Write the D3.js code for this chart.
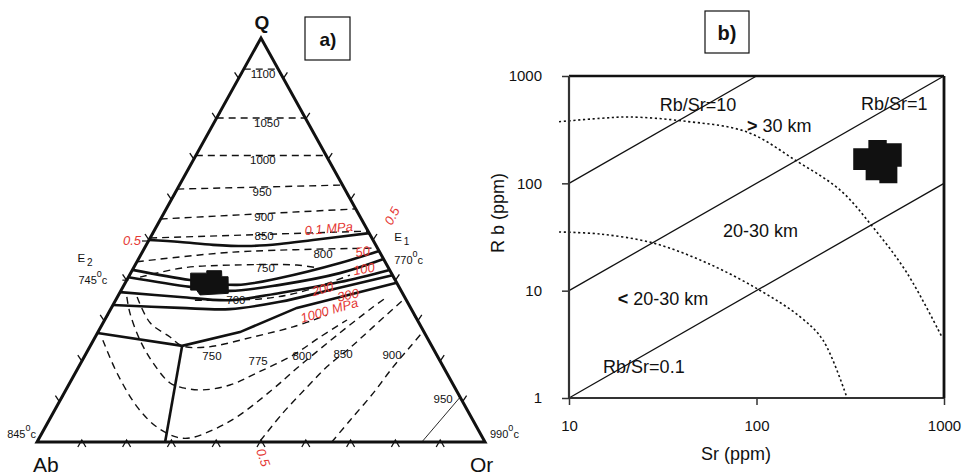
<!DOCTYPE html>
<html>
<head>
<meta charset="utf-8">
<script src="https://cdn.jsdelivr.net/npm/d3@7"></script>
<style>
  body { margin: 0; background: #fff; }
  svg { font-family: Arial, "Liberation Sans", Helvetica, sans-serif; }
</style>
</head>
<body>
<svg id="chart" width="974" height="475"></svg>
<script>
// ---------- panel a: Q-Ab-Or ternary, every point is [Or %, Q %] (Ab = rest) ----------
const ternTicks = [10, 20, 30, 40, 50, 60, 70, 80, 90];

const pressureNames = ["0.1 MPa", "50", "100", "200", "300", "1000 MPa"];
const pressureCurves = [
  [[0, 50.0], [7.2, 49.5], [14.9, 48.8], [22.6, 48.5], [29.7, 49.0], [36.6, 50.0], [48.3, 51.7]],
  [[0, 42.6], [14.1, 40.1], [25.2, 38.9], [33.9, 40.6], [45.5, 44.3], [52.7, 47.3]],
  [[0, 40.8], [15.0, 38.4], [24.4, 37.4], [34.8, 38.9], [46.7, 41.8], [54.7, 45.3]],
  [[0, 37.1], [14.0, 35.9], [25.5, 35.1], [35.8, 36.9], [47.8, 39.6], [57.4, 42.6]],
  [[0, 33.9], [15.3, 33.2], [26.6, 32.9], [36.9, 34.7], [46.6, 37.6], [58.7, 41.3]],
  [[0, 27.0], [20.5, 23.8], [31.7, 27.2], [41.4, 33.2], [60.6, 39.4]]
];
// field boundary from the 1000 MPa minimum down to the Ab-Or join
const fieldBoundary = [[20.5, 23.8], [28.6, 0]];

const isoTemps = [1100, 1050, 1000, 950, 900, 850, 800, 750, 700, 750, 775, 800, 850, 900];
const isotherms = [
  [[0, 92.3], [7.7, 92.3]],
  [[0, 80.2], [19.8, 80.2]],
  [[0, 70.9], [29.1, 70.9]],
  [[0, 62.6], [36.4, 63.6]],
  [[0, 55.2], [42.3, 57.7]],
  [[0, 50.5], [47.8, 52.2]],
  [[0, 44.6], [20.3, 47.0], [52.0, 48.0]],
  [[2.6, 40.8], [11.0, 43.1], [21.9, 43.8], [36.1, 43.8], [41.0, 43.1]],
  [[17.7, 35.1], [32.1, 35.4], [40.2, 37.1], [49.2, 41.3]],
  [[4.4, 35.9], [10.5, 29.5], [16.7, 26.0], [20.5, 23.8], [26.2, 23.5], [35.2, 26.0], [42.9, 28.5], [49.0, 31.4]],
  [[2.1, 35.9], [4.8, 31.9], [10.4, 25.2], [16.1, 19.6], [22.4, 14.6], [25.9, 13.4], [30.6, 12.9], [36.0, 14.1], [40.5, 17.1], [46.4, 21.5], [50.2, 26.0], [54.1, 30.2]],
  [[2.1, 25.2], [9.3, 17.1], [18.0, 8.7], [24.9, 3.7], [30.6, 1.2], [33.7, 1.0], [37.8, 3.0], [41.5, 6.2], [46.0, 12.9], [48.9, 18.3], [54.1, 27.0], [58.3, 33.4], [60.2, 35.9]],
  [[49.7, 0.3], [51.3, 7.2], [53.5, 13.6], [55.4, 18.6], [58.2, 23.3], [60.8, 28.5], [64.1, 35.1]],
  [[65.8, 0], [67.2, 5.4], [69.0, 12.1], [70.2, 18.6], [71.5, 23.5], [72.4, 27.0]]
];
const iso950 = [[85.9, 0], [88.9, 11.1]];

// label anchors (text centre / baseline) in [Or, Q]
const isoLabelText = ["1100", "1050", "1000", "950", "900", "850", "800", "750", "700", "750", "775", "800", "850", "900", "950"];
const isoLabelAt = [
  [5.4, 90.1], [12.3, 78.0], [16.0, 68.8], [19.8, 60.9], [23.3, 54.7], [25.7, 50.0], [41.1, 45.5],
  [29.9, 42.1], [27.3, 34.2], [28.9, 20.3], [39.8, 19.1], [49.0, 20.3], [57.9, 20.8], [69.0, 20.5], [85.8, 9.7]
];
const pressureLabelAt = [[34.2, 51.2], [48.3, 45.8], [50.1, 41.3], [43.6, 36.1], [49.9, 34.7], [44.4, 29.5]];
const pressureLabelTilt = [-5, -8, -10, -15, -12, -16];

const sampleBlobA = [
  [13.4, 41.8], [17.0, 41.8], [16.7, 42.4], [20.0, 42.4], [20.8, 40.9], [22.2, 40.9],
  [24.3, 36.8], [18.2, 36.4], [16.8, 37.6], [15.5, 37.6]
];

// ---------- panel b: Rb vs Sr (ppm), log-log ----------
const srTicks = [10, 100, 1000];
const rbTicks = [1, 10, 100, 1000];
const ratioNames = ["Rb/Sr=10", "Rb/Sr=1", "Rb/Sr=0.1"];
const ratioLines = [
  [[10, 100], [100, 1000]],
  [[10, 10], [1000, 1000]],
  [[10, 1], [1000, 100]]
];
const ratioLabelAt = [[30.5, 472], [361, 482], [15.2, 1.71]];

const depthCurves = [
  [[8.85, 375], [14.6, 403], [21.1, 415], [40.5, 381], [88.9, 301], [164, 161], [279, 86.6], [418, 39.1], [635, 14.6], [973, 3.72]],
  [[8.85, 35.2], [14.6, 33.7], [28.1, 27.8], [54.5, 18.1], [104, 10.1], [171, 5.7], [226, 3.47], [304, 1]]
];
const depthLabels = ["30 km", "20-30 km", "20-30 km"];
const depthMarks = [">", "", "<"];
const depthLabelAt = [[88.9, 301], [66.2, 31.6], [18.2, 7.35]];

const sampleBlobB = [
  [328, 212], [395, 212], [395, 253], [495, 253], [495, 236], [595, 236], [595, 143],
  [564, 143], [564, 100], [452, 100], [452, 107], [382, 107], [382, 133], [328, 133]
];

const RED = "#e53935";
const INK = "#111";

const svg = d3.select("#chart");

// ================= panel a =================
const tx = d3.scaleLinear().domain([0, 100]).range([37, 485]);
const ty = d3.scaleLinear().domain([0, 100]).range([442, 38]);
const tern = (d) => [tx(d[0] + d[1] / 2), ty(d[1])];

const ga = svg.append("g");
const smooth = d3.line().x((d) => tern(d)[0]).y((d) => tern(d)[1]).curve(d3.curveCatmullRom.alpha(0.5));
const straight = d3.line().x((d) => tern(d)[0]).y((d) => tern(d)[1]);

// dashed isotherms
ga.append("g")
  .selectAll("path")
  .data(isotherms)
  .join("path")
  .attr("d", (d) => (d.length > 2 ? smooth(d) : straight(d)))
  .attr("fill", "none")
  .attr("stroke", INK)
  .attr("stroke-width", 1.4)
  .attr("stroke-dasharray", "7,5");

ga.append("path").datum(iso950).attr("d", straight).attr("fill", "none").attr("stroke", INK).attr("stroke-width", 0.9);

// pressure minima curves
ga.append("g")
  .selectAll("path")
  .data(pressureCurves)
  .join("path")
  .attr("d", (d, i) => (i === 5 ? straight(d) : smooth(d)))
  .attr("fill", "none")
  .attr("stroke", INK)
  .attr("stroke-width", 2.6);

ga.append("path").datum(fieldBoundary).attr("d", straight).attr("fill", "none").attr("stroke", INK).attr("stroke-width", 2.6);

// triangle
const corners = [[0, 0], [100, 0], [0, 100]];
ga.append("path")
  .attr("d", straight(corners) + "Z")
  .attr("fill", "none")
  .attr("stroke", INK)
  .attr("stroke-width", 3)
  .attr("stroke-linejoin", "miter");

// edge ticks
const tickG = ga.append("g").attr("fill", "none").attr("stroke", INK).attr("stroke-width", 1.3);
ternTicks.forEach((v) => {
  const [lx, ly] = tern([0, v]);
  const [rx, ry] = tern([100 - v, v]);
  const [bx, by] = tern([v, 0]);
  tickG.append("path").attr("d", `M${lx - 4},${ly - 6} L${lx},${ly} L${lx + 4},${ly - 6}`);
  tickG.append("path").attr("d", `M${rx - 4},${ry - 6} L${rx},${ry} L${rx + 4},${ry - 6}`);
  tickG.append("path").attr("d", `M${bx - 4},${by + 5} L${bx},${by - 2} L${bx + 4},${by + 5}`);
});

// sample field
ga.append("path").datum(sampleBlobA).attr("d", (d) => straight(d) + "Z").attr("fill", "#111").attr("stroke", "#111").attr("stroke-width", 1);

// isotherm labels
ga.append("g")
  .selectAll("text")
  .data(isoLabelText)
  .join("text")
  .attr("x", (d, i) => tern(isoLabelAt[i])[0])
  .attr("y", (d, i) => tern(isoLabelAt[i])[1])
  .attr("text-anchor", "middle")
  .attr("font-size", 11.5)
  .attr("fill", INK)
  .text((d) => d);

// pressure labels (red italic)
ga.append("g")
  .selectAll("text")
  .data(pressureNames)
  .join("text")
  .attr("transform", (d, i) => {
    const [x, y] = tern(pressureLabelAt[i]);
    return `translate(${x},${y}) rotate(${pressureLabelTilt[i]})`;
  })
  .attr("font-size", 13)
  .attr("font-style", "italic")
  .attr("fill", RED)
  .text((d) => d);

// corner & edge labels
const [qx, qy] = tern([0, 100]);
const [abx, aby] = tern([0, 0]);
const [orx, ory] = tern([100, 0]);
ga.append("text").attr("x", qx + 1).attr("y", qy - 9).attr("text-anchor", "middle").attr("font-size", 19).attr("font-weight", "bold").attr("fill", INK).text("Q");
ga.append("text").attr("x", abx - 4).attr("y", aby + 30).attr("font-size", 21).attr("fill", INK).text("Ab");
ga.append("text").attr("x", orx - 15).attr("y", ory + 30).attr("font-size", 21).attr("fill", INK).text("Or");

function degLabel(g, x, y, num, anchor) {
  const t = g.append("text").attr("x", x).attr("y", y).attr("font-size", 11).attr("fill", INK).attr("text-anchor", anchor || "start");
  t.append("tspan").text(num);
  t.append("tspan").attr("dy", -7).attr("font-size", 9).text("0");
  t.append("tspan").attr("dy", 7).text("c");
  return t;
}
degLabel(ga, abx - 1, aby - 4, "845", "end");
degLabel(ga, orx + 5, ory - 4, "990");

const [e1x, e1y] = tern(pressureCurves[0][pressureCurves[0].length - 1]);
const e1 = ga.append("text").attr("x", e1x + 25).attr("y", e1y + 8).attr("font-size", 11.5).attr("fill", INK);
e1.append("tspan").text("E");
e1.append("tspan").attr("dx", 2).attr("dy", 4).attr("font-size", 10).text("1");
degLabel(ga, e1x + 25, e1y + 31, "770");

const [e2x, e2y] = tern([0, 40.8]);
const e2 = ga.append("text").attr("x", e2x - 51).attr("y", e2y - 15).attr("font-size", 11.5).attr("fill", INK);
e2.append("tspan").text("E");
e2.append("tspan").attr("dx", 2).attr("dy", 4).attr("font-size", 10).text("2");
degLabel(ga, e2x - 50, e2y + 7, "745");
ga.append("line").attr("x1", e2x - 6).attr("x2", e2x).attr("y1", e2y + 3).attr("y2", e2y + 3).attr("stroke", INK).attr("stroke-width", 1.2);

// red 0.5 marks on each edge
const [hlx, hly] = tern([0, 50]);
ga.append("text").attr("x", hlx - 8).attr("y", hly + 5).attr("text-anchor", "end").attr("font-size", 13).attr("font-style", "italic").attr("fill", RED).text("0.5");
ga.append("line").attr("x1", hlx - 7).attr("x2", hlx).attr("y1", hly + 1).attr("y2", hly + 1).attr("stroke", INK).attr("stroke-width", 1.2);
const [hrx, hry] = tern([50, 50]);
ga.append("text").attr("transform", `translate(${hrx + 23},${hry - 22}) rotate(-62)`).attr("text-anchor", "middle").attr("font-size", 13).attr("font-style", "italic").attr("fill", RED).text("0.5");
const [hbx, hby] = tern([50, 0]);
ga.append("text").attr("transform", `translate(${hbx - 2},${hby + 17}) rotate(70)`).attr("text-anchor", "middle").attr("font-size", 13).attr("font-style", "italic").attr("fill", RED).text("0.5");

// a) box
ga.append("rect").attr("x", 305).attr("y", 17).attr("width", 45).attr("height", 43).attr("fill", "none").attr("stroke", INK).attr("stroke-width", 1.2);
ga.append("text").attr("x", 328).attr("y", 46).attr("text-anchor", "middle").attr("font-size", 19).attr("font-weight", "bold").attr("fill", INK).text("a)");

// ================= panel b =================
const xs = d3.scaleLog().domain([10, 1000]).range([569, 944]);
const ys = d3.scaleLog().domain([1, 1000]).range([398, 76]);
const gb = svg.append("g");
const logLine = d3.line().x((d) => xs(d[0])).y((d) => ys(d[1]));

gb.append("g")
  .selectAll("path")
  .data(ratioLines)
  .join("path")
  .attr("d", logLine)
  .attr("fill", "none")
  .attr("stroke", INK)
  .attr("stroke-width", 1.3);

gb.append("g")
  .selectAll("path")
  .data(depthCurves)
  .join("path")
  .attr("d", d3.line().x((d) => xs(d[0])).y((d) => ys(d[1])).curve(d3.curveCatmullRom.alpha(0.5)))
  .attr("fill", "none")
  .attr("stroke", INK)
  .attr("stroke-width", 1.6)
  .attr("stroke-dasharray", "2.2,2.6");

gb.append("path").datum(sampleBlobB).attr("d", (d) => logLine(d) + "Z").attr("fill", "#111");

// frame
const [fx0, fx1] = xs.range();
const [fy1, fy0] = ys.range();
gb.append("line").attr("x1", fx0).attr("x2", fx1).attr("y1", fy0).attr("y2", fy0).attr("stroke", INK).attr("stroke-width", 2.4);
gb.append("line").attr("x1", fx0).attr("x2", fx1).attr("y1", fy1).attr("y2", fy1).attr("stroke", "#333").attr("stroke-width", 2);
gb.append("line").attr("x1", fx0).attr("x2", fx0).attr("y1", fy0).attr("y2", fy1).attr("stroke", "#333").attr("stroke-width", 2.2);
gb.append("line").attr("x1", fx1).attr("x2", fx1).attr("y1", fy0).attr("y2", fy1).attr("stroke", INK).attr("stroke-width", 2.8);

const yAxis = gb.append("g")
  .attr("transform", `translate(${fx0},0)`)
  .call(d3.axisLeft(ys).tickValues(rbTicks).tickFormat(d3.format("d")).tickSize(7).tickPadding(20));
const xAxis = gb.append("g")
  .attr("transform", `translate(0,${fy1})`)
  .call(d3.axisBottom(xs).tickValues(srTicks).tickFormat(d3.format("d")).tickSize(7).tickPadding(15));
[yAxis, xAxis].forEach((ax) => {
  ax.select(".domain").remove();
  ax.attr("font-size", 15).attr("font-family", "Arial, 'Liberation Sans', sans-serif");
  ax.selectAll("line").attr("stroke", "#333").attr("stroke-width", 1.5);
  ax.selectAll("text").attr("fill", INK);
});

gb.append("text").attr("x", 736).attr("y", 460).attr("text-anchor", "middle").attr("font-size", 18).attr("fill", INK).text("Sr (ppm)");
gb.append("text").attr("transform", `translate(504,213) rotate(-90)`).attr("text-anchor", "middle").attr("font-size", 18).attr("fill", INK).text("R b (ppm)");

gb.append("g")
  .selectAll("text")
  .data(ratioNames)
  .join("text")
  .attr("x", (d, i) => xs(ratioLabelAt[i][0]))
  .attr("y", (d, i) => ys(ratioLabelAt[i][1]))
  .attr("font-size", 18)
  .attr("fill", INK)
  .text((d) => d);

const depthText = gb.append("g")
  .selectAll("text")
  .data(depthLabels)
  .join("text")
  .attr("x", (d, i) => xs(depthLabelAt[i][0]))
  .attr("y", (d, i) => ys(depthLabelAt[i][1]))
  .attr("font-size", 18)
  .attr("fill", INK);
depthText.append("tspan").attr("font-weight", "bold").text((d, i) => depthMarks[i] ? depthMarks[i] + " " : "");
depthText.append("tspan").text((d) => d);

// b) box
gb.append("rect").attr("x", 705).attr("y", 11).attr("width", 44).attr("height", 42).attr("fill", "none").attr("stroke", INK).attr("stroke-width", 1.2);
gb.append("text").attr("x", 727).attr("y", 40).attr("text-anchor", "middle").attr("font-size", 20).attr("font-weight", "bold").attr("fill", INK).text("b)");
</script>
</body>
</html>
